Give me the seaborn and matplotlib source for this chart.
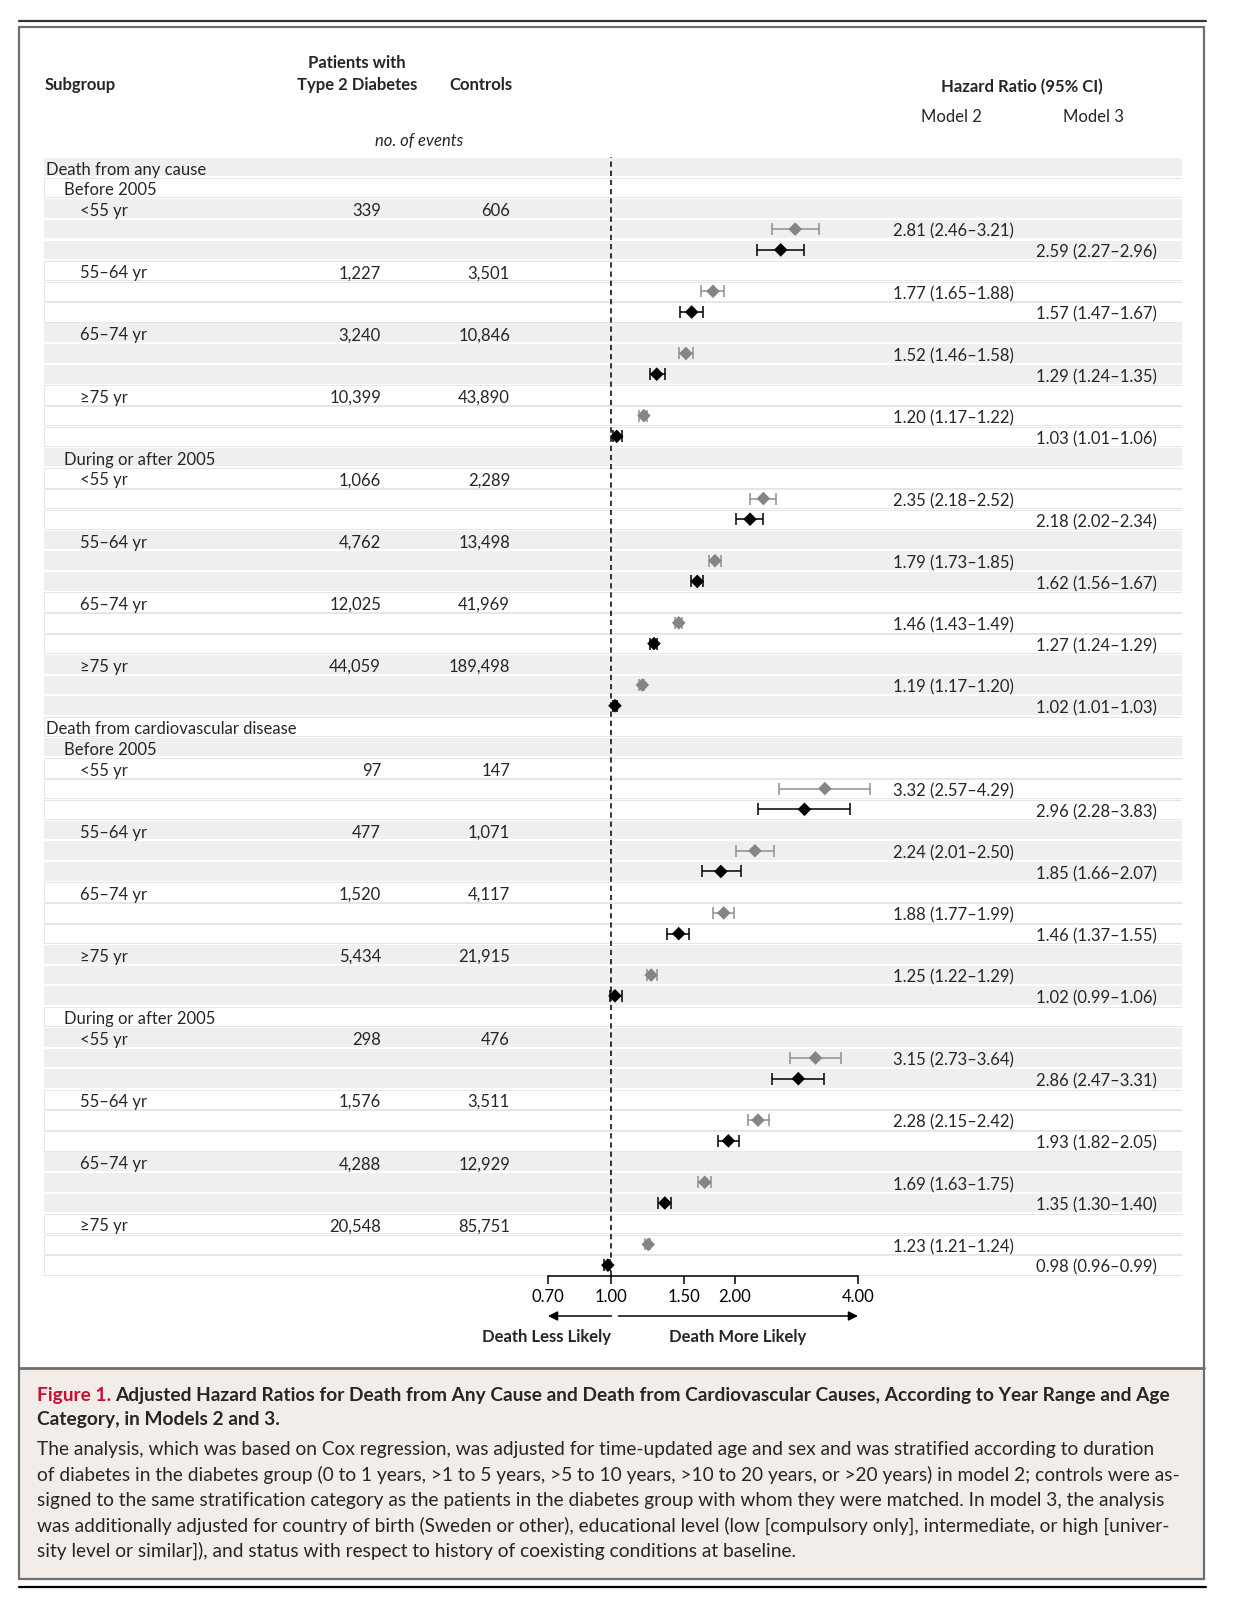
import numpy as np
import pandas as pd
import matplotlib
matplotlib.use("Agg")
import matplotlib.pyplot as plt
import matplotlib.transforms as mtransforms
from matplotlib.patches import Rectangle
from matplotlib.lines import Line2D
from matplotlib.ticker import NullLocator
import seaborn as sns

# --- Data ---
causes = ["Death from any cause", "Death from cardiovascular disease"]
periods = ["Before 2005", "During or after 2005"]
ages = ["<55 yr", "55\u201364 yr", "65\u201374 yr", "\u226575 yr"]

events_diabetes = [339, 1227, 3240, 10399, 1066, 4762, 12025, 44059,
                   97, 477, 1520, 5434, 298, 1576, 4288, 20548]
events_controls = [606, 3501, 10846, 43890, 2289, 13498, 41969, 189498,
                   147, 1071, 4117, 21915, 476, 3511, 12929, 85751]

model2_hr = [2.81, 1.77, 1.52, 1.20, 2.35, 1.79, 1.46, 1.19,
             3.32, 2.24, 1.88, 1.25, 3.15, 2.28, 1.69, 1.23]
model2_lo = [2.46, 1.65, 1.46, 1.17, 2.18, 1.73, 1.43, 1.17,
             2.57, 2.01, 1.77, 1.22, 2.73, 2.15, 1.63, 1.21]
model2_hi = [3.21, 1.88, 1.58, 1.22, 2.52, 1.85, 1.49, 1.20,
             4.29, 2.50, 1.99, 1.29, 3.64, 2.42, 1.75, 1.24]
model3_hr = [2.59, 1.57, 1.29, 1.03, 2.18, 1.62, 1.27, 1.02,
             2.96, 1.85, 1.46, 1.02, 2.86, 1.93, 1.35, 0.98]
model3_lo = [2.27, 1.47, 1.24, 1.01, 2.02, 1.56, 1.24, 1.01,
             2.28, 1.66, 1.37, 0.99, 2.47, 1.82, 1.30, 0.96]
model3_hi = [2.96, 1.67, 1.35, 1.06, 2.34, 1.67, 1.29, 1.03,
             3.83, 2.07, 1.55, 1.06, 3.31, 2.05, 1.40, 0.99]

x_ticks = [0.70, 1.00, 1.50, 2.00, 4.00]

caption_title = ("Adjusted Hazard Ratios for Death from Any Cause and Death from "
                 "Cardiovascular Causes, According to Year Range and Age")
caption_title2 = "Category, in Models 2 and 3."
caption_lines = [
    "The analysis, which was based on Cox regression, was adjusted for time-updated age and sex and was stratified according to duration",
    "of diabetes in the diabetes group (0 to 1 years, >1 to 5 years, >5 to 10 years, >10 to 20 years, or >20 years) in model 2; controls were as-",
    "signed to the same stratification category as the patients in the diabetes group with whom they were matched. In model 3, the analysis",
    "was additionally adjusted for country of birth (Sweden or other), educational level (low [compulsory only], intermediate, or high [univer-",
    "sity level or similar]), and status with respect to history of coexisting conditions at baseline.",
]

# --- Build the row layout ---
rows = []      # (label, indent level, data index)
blocks = []    # (first row, n rows) for the alternating shading
points = []    # marker table
for ci, cause in enumerate(causes):
    blocks.append((len(rows), 1))
    rows.append((cause, 0, None))
    for pi, period in enumerate(periods):
        blocks.append((len(rows), 1))
        rows.append((period, 1, None))
        for ai, age in enumerate(ages):
            k = ci * 8 + pi * 4 + ai
            blocks.append((len(rows), 3))
            rows.append((age, 2, k))
            points.append(dict(row=len(rows), model="Model 2", k=k, hr=model2_hr[k],
                               lo=model2_lo[k], hi=model2_hi[k]))
            rows.append(("", 3, None))
            points.append(dict(row=len(rows), model="Model 3", k=k, hr=model3_hr[k],
                               lo=model3_lo[k], hi=model3_hi[k]))
            rows.append(("", 3, None))
df = pd.DataFrame(points)
n_rows = len(rows)

# --- Figure ---
W, H = 1242, 1611
sns.set_theme(style="white")
plt.rcParams["font.family"] = ["Lato", "DejaVu Sans"]
FS = 12
CFS = 13.8
fig = plt.figure(figsize=(W / 100, H / 100), dpi=100)


def fx(px):
    return px / W


def fy(py):
    return 1 - py / H


row0, pitch = 167.0, 20.72
top = row0 - pitch / 2
bottom = row0 + (n_rows - 0.5) * pitch
ax = fig.add_axes([fx(44), fy(bottom), fx(1182) - fx(44), (bottom - top) / H])
ax.set_xscale("log")
# log axis placed so that 0.70 -> 548 px and 4.00 -> 858 px
b = (858 - 548) / np.log(4.0 / 0.7)
ax.set_xlim(0.7 * np.exp(-(548 - 44) / b), 4.0 * np.exp((1182 - 858) / b))
ax.set_ylim(n_rows - 0.5, -0.5)
ax.set_facecolor("white")

# alternating shaded blocks
for i, (start, length) in enumerate(blocks):
    for r in range(start, start + length):
        if i % 2 == 0:
            ax.axhspan(r - 0.45, r + 0.45, facecolor="#efeff1", edgecolor="none", zorder=0)
        else:
            ax.axhspan(r - 0.47, r + 0.47, facecolor="white", edgecolor="#e6e6e9",
                       lw=0.7, zorder=0)

ax.axvline(1.0, color="black", lw=1.1, ls=(0, (3.5, 2.5)), zorder=1)

colors = {"Model 2": "#858585", "Model 3": "black"}
bar_colors = {"Model 2": "#8f8f8f", "Model 3": "black"}
for model, sub in df.groupby("model"):
    ax.errorbar(sub["hr"], sub["row"],
                xerr=[sub["hr"] - sub["lo"], sub["hi"] - sub["hr"]],
                fmt="none", ecolor=bar_colors[model], elinewidth=1.1,
                capsize=4, capthick=1.1, zorder=2)
sns.scatterplot(data=df, x="hr", y="row", hue="model", palette=colors,
                marker="D", s=48, edgecolor="none", legend=False, zorder=3, ax=ax)
ax.set_xlabel("")
ax.set_ylabel("")
ax.set_yticks([])

for side in ["left", "right", "top"]:
    ax.spines[side].set_visible(False)
ax.spines["bottom"].set_bounds(x_ticks[0], x_ticks[-1])
ax.spines["bottom"].set_color("black")
ax.spines["bottom"].set_linewidth(1.1)
ax.set_xticks(x_ticks)
ax.set_xticklabels([f"{t:.2f}" for t in x_ticks])
ax.xaxis.set_minor_locator(NullLocator())
ax.tick_params(axis="x", bottom=True, direction="out", length=6, width=1.1,
               pad=4, labelsize=FS, colors="black")

# --- Table text ---
dy = 0.13  # nudge text down a little within its row
trans = mtransforms.blended_transform_factory(fig.transFigure, ax.transData)
indent = {0: 46, 1: 64, 2: 80}
for r, (label, level, k) in enumerate(rows):
    if label:
        ax.text(fx(indent[level]), r + dy, label, transform=trans, ha="left",
                va="center", fontsize=FS)
    if k is not None:
        ax.text(fx(381), r + dy, f"{events_diabetes[k]:,}", transform=trans,
                ha="right", va="center", fontsize=FS)
        ax.text(fx(510), r + dy, f"{events_controls[k]:,}", transform=trans,
                ha="right", va="center", fontsize=FS)
for p in points:
    x0 = 893 if p["model"] == "Model 2" else 1036
    ax.text(fx(x0), p["row"] + dy, f"{p['hr']:.2f} ({p['lo']:.2f}\u2013{p['hi']:.2f})",
            transform=trans, ha="left", va="center", fontsize=FS)

# --- Header ---
fig.text(fx(45), fy(85), "Subgroup", ha="left", va="center", fontsize=FS, weight="bold")
fig.text(fx(357), fy(63), "Patients with", ha="center", va="center", fontsize=FS, weight="bold")
fig.text(fx(357), fy(85), "Type 2 Diabetes", ha="center", va="center", fontsize=FS, weight="bold")
fig.text(fx(481), fy(85), "Controls", ha="center", va="center", fontsize=FS, weight="bold")
fig.text(fx(419), fy(141), "no. of events", ha="center", va="center", fontsize=FS, style="italic")
fig.text(fx(1022), fy(87), "Hazard Ratio (95% CI)", ha="center", va="center", fontsize=FS, weight="bold")
fig.text(fx(951), fy(117), "Model 2", ha="center", va="center", fontsize=FS)
fig.text(fx(1093), fy(117), "Model 3", ha="center", va="center", fontsize=FS)

# --- Direction arrows below the axis ---
arr = mtransforms.blended_transform_factory(ax.transData, fig.transFigure)
ax.annotate("", xy=(0.70, fy(1316)), xytext=(1.0, fy(1316)), xycoords=arr, textcoords=arr,
            arrowprops=dict(arrowstyle="-|>", color="black", lw=1.1, shrinkA=0, shrinkB=0,
                            mutation_scale=14))
ax.annotate("", xy=(4.0, fy(1316)), xytext=(1.04, fy(1316)), xycoords=arr, textcoords=arr,
            arrowprops=dict(arrowstyle="-|>", color="black", lw=1.1, shrinkA=0, shrinkB=0,
                            mutation_scale=14))
fig.text(fx(611), fy(1337), "Death Less Likely", ha="right", va="center", fontsize=FS, weight="bold")
fig.text(fx(669), fy(1337), "Death More Likely", ha="left", va="center", fontsize=FS, weight="bold")

# --- Frame, rules and caption box ---
fig.add_artist(Rectangle((fx(19), fy(1579)), fx(1204) - fx(19), (1579 - 1368) / H,
                         transform=fig.transFigure, facecolor="#f3ede9", edgecolor="none", zorder=0))
fig.add_artist(Rectangle((fx(19), fy(1579)), fx(1204) - fx(19), (1579 - 27) / H,
                         transform=fig.transFigure, facecolor="none", edgecolor="#6e6e6e", lw=1.6))
fig.add_artist(Line2D([fx(19), fx(1204)], [fy(1368), fy(1368)], transform=fig.transFigure,
                      color="#6e6e6e", lw=2))
fig.add_artist(Line2D([fx(19), fx(1206)], [fy(21), fy(21)], transform=fig.transFigure,
                      color="#333333", lw=1.6))
fig.add_artist(Line2D([fx(19), fx(1206)], [fy(1587), fy(1587)], transform=fig.transFigure,
                      color="black", lw=1.6))

renderer = fig.canvas.get_renderer()
t = fig.text(fx(37), fy(1395), "Figure 1.", ha="left", va="center", fontsize=CFS,
             color="#c8102e", weight="bold")
bb = t.get_window_extent(renderer)
fig.text(bb.x1 / W + fx(4), fy(1395), caption_title, ha="left", va="center",
         fontsize=CFS, weight="bold")
fig.text(fx(37), fy(1420), caption_title2, ha="left", va="center", fontsize=CFS, weight="bold")
for i, line in enumerate(caption_lines):
    fig.text(fx(37), fy(1450 + i * 25.3), line, ha="left", va="center", fontsize=CFS)

fig.savefig("out.png", dpi=100)
